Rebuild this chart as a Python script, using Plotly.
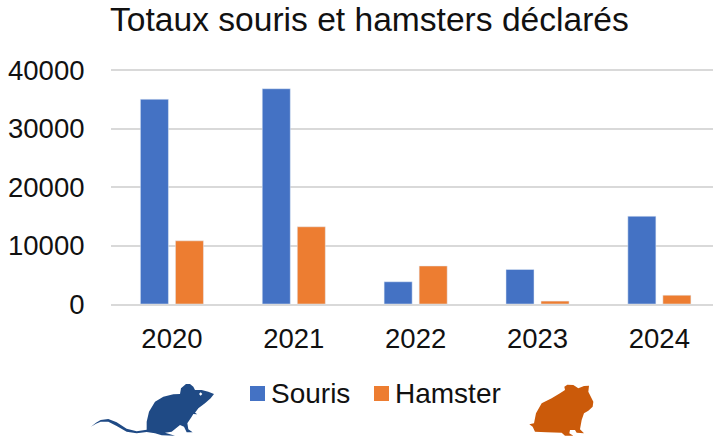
import plotly.graph_objects as go

years = ["2020", "2021", "2022", "2023", "2024"]
souris = [35000, 36800, 3800, 5900, 15000]
hamster = [10800, 13200, 6500, 500, 1500]
y_ticks = [0, 10000, 20000, 30000, 40000]

W, H = 713, 436
L, R, T, B = 111, 0, 68, 132
FONT = "Liberation Sans"
INK = "#111111"
BLUE, ORANGE = "#4472C4", "#ED7D31"
Y_TOP = 40000 * 236 / 234


def px(x):
    return (x - L) / (W - L - R)


def py(y):
    return (H - B - y) / (H - T - B)


def icon_path(points, ox, oy, scale=3):
    coords = [(px(ox + a / scale), py(oy + b / scale)) for a, b in points]
    return "M" + "L".join(f"{a:.5f},{b:.5f}" for a, b in coords) + "Z"


mouse_outline = [
    (33, 170), (48, 158), (62, 150), (85, 147), (110, 157), (140, 176), (170, 184), (200, 179),
    (200, 155), (207, 125), (225, 95), (250, 80), (280, 73), (300, 72), (303, 55), (318, 42),
    (330, 42), (340, 50), (345, 60), (365, 60), (385, 65), (402, 72), (392, 85), (375, 100),
    (355, 115), (345, 128), (352, 133), (340, 132), (335, 140), (322, 160), (325, 178), (338, 187),
    (320, 187), (312, 170), (300, 165), (275, 185), (255, 188), (285, 197), (245, 196), (225, 190),
    (200, 186), (170, 190), (140, 185), (110, 168), (85, 155), (62, 155), (48, 161),
]
mouse_eye = [(357, 72), (362, 67), (367, 72), (362, 77)]
hamster_outline = [
    (58, 163), (72, 160), (78, 130), (95, 100), (125, 85), (150, 70), (165, 60), (163, 50),
    (172, 44), (190, 45), (205, 55), (222, 48), (237, 47), (235, 65), (250, 95), (248, 110),
    (235, 122), (222, 130), (215, 150), (210, 178), (222, 190), (200, 188), (195, 180), (180, 180),
    (178, 190), (190, 197), (165, 197), (155, 188), (110, 187), (75, 185), (68, 170),
]

fig = go.Figure()
fig.add_bar(name="Souris", x=years, y=souris, marker_color=BLUE)
fig.add_bar(name="Hamster", x=years, y=hamster, marker_color=ORANGE)

shapes = [
    dict(type="rect", xref="paper", yref="paper", x0=px(250), x1=px(265), y0=py(386), y1=py(401),
         fillcolor=BLUE, line_width=0),
    dict(type="rect", xref="paper", yref="paper", x0=px(374), x1=px(389), y0=py(386), y1=py(401),
         fillcolor=ORANGE, line_width=0),
    dict(type="path", xref="paper", yref="paper", path=icon_path(mouse_outline, 80, 370),
         fillcolor="#1F4A85", line_width=0),
    dict(type="path", xref="paper", yref="paper", path=icon_path(mouse_eye, 80, 370),
         fillcolor="white", line_width=0),
    dict(type="path", xref="paper", yref="paper", path=icon_path(hamster_outline, 510, 370),
         fillcolor="#CB5A0A", line_width=0),
]

annotations = [
    dict(text="Souris", xref="paper", yref="paper", x=px(269), y=py(393), xanchor="left", yanchor="middle",
         showarrow=False, font=dict(family=FONT, size=28, color=INK)),
    dict(text="Hamster", xref="paper", yref="paper", x=px(393), y=py(393), xanchor="left", yanchor="middle",
         showarrow=False, font=dict(family=FONT, size=28, color=INK)),
]

fig.update_layout(
    width=W, height=H, autosize=False,
    margin=dict(l=L, r=R, t=T, b=B, pad=0),
    paper_bgcolor="white", plot_bgcolor="white",
    barmode="group", bargap=0.425, bargroupgap=0.2,
    showlegend=False,
    font=dict(family=FONT, size=27.5, color=INK),
    title=dict(text="Totaux souris et hamsters déclarés", x=110 / W, xanchor="left", y=1 - 19 / H,
               yanchor="middle", font=dict(family=FONT, size=33.6, color=INK)),
    xaxis=dict(type="category", range=[-0.5, 4.44], showgrid=False, showline=True, linecolor="#D9D9D9",
               linewidth=2, ticks="outside", ticklen=9, tickcolor="rgba(0,0,0,0)", tickfont=dict(size=27.5),
               automargin=False),
    yaxis=dict(range=[0, Y_TOP], tickvals=y_ticks, ticktext=[str(v) for v in y_ticks], gridcolor="#D9D9D9",
               gridwidth=1.5, zeroline=False, showline=False, ticks="outside", ticklen=20,
               tickcolor="rgba(0,0,0,0)", tickfont=dict(size=27.5), automargin=False),
    shapes=shapes, annotations=annotations,
)
fig.write_html("out.html", config=dict(displayModeBar=False),
               post_script="document.body.style.margin='0';document.documentElement.style.overflow='hidden';")
